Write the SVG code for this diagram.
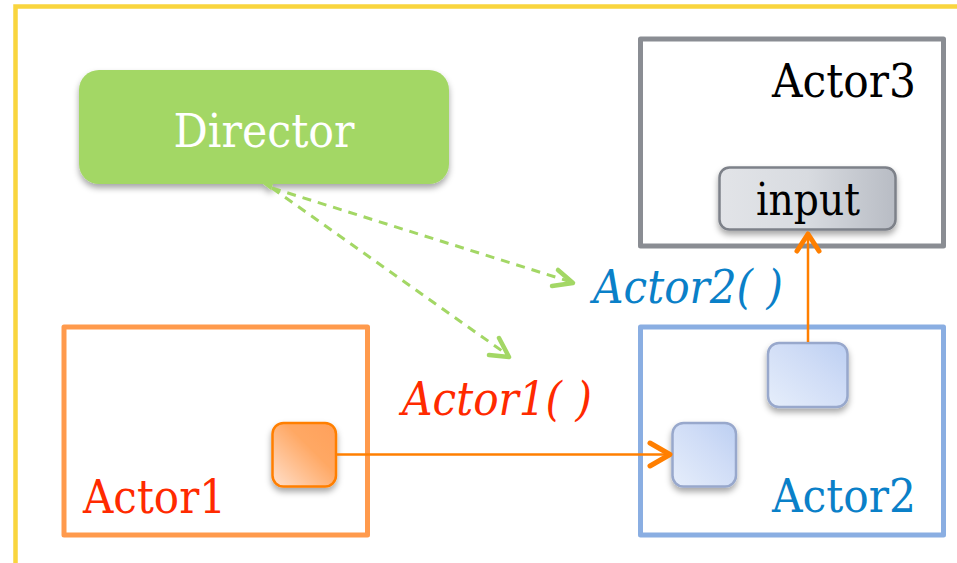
<svg xmlns="http://www.w3.org/2000/svg" width="957" height="563" viewBox="0 0 957 563">
  <defs>
    <style>
      .lbl { font-family: 'DejaVu Serif', 'Liberation Serif', serif; }
      .big { font-size: 46px; }
      .frame { fill: none; stroke-width: 5; stroke-linejoin: round; }
      .port { stroke-width: 2.5; filter: url(#shadow); }
      .flow { fill: none; stroke: #ff7f00; stroke-width: 2.5; }
      .flowhead { fill: none; stroke: #ff7f00; stroke-width: 5; stroke-linecap: round; stroke-linejoin: round; }
      .ctl { fill: none; stroke: #a3d765; stroke-width: 3; stroke-dasharray: 9 7; }
      .ctlhead { fill: none; stroke: #a3d765; stroke-width: 4.5; stroke-linecap: round; stroke-linejoin: round; }
    </style>
    <filter id="shadow" x="-30%" y="-30%" width="160%" height="170%">
      <feDropShadow dx="0" dy="4" stdDeviation="3" flood-color="#000" flood-opacity="0.35"/>
    </filter>
    <linearGradient id="gOrange" x1="0" y1="1" x2="1" y2="0">
      <stop offset="0" stop-color="#ffe0cc"/>
      <stop offset="0.6" stop-color="#ffa864"/>
      <stop offset="1" stop-color="#ffa05a"/>
    </linearGradient>
    <linearGradient id="gBlue" x1="0" y1="1" x2="1" y2="0">
      <stop offset="0" stop-color="#e6eefb"/>
      <stop offset="0.6" stop-color="#cfdcf6"/>
      <stop offset="1" stop-color="#bccff2"/>
    </linearGradient>
    <linearGradient id="gGray" x1="0" y1="0" x2="1" y2="0">
      <stop offset="0" stop-color="#e2e4e8"/>
      <stop offset="0.5" stop-color="#d8dbe0"/>
      <stop offset="1" stop-color="#b8bcc4"/>
    </linearGradient>
  </defs>

  <rect width="957" height="563" fill="#ffffff"/>

  <!-- outer frame -->
  <path d="M15.5,563 V6.5 H957" fill="none" stroke="#f9d53e" stroke-width="4.5"/>

  <!-- Director -->
  <g id="director">
    <g filter="url(#shadow)">
      <rect x="79" y="70" width="370" height="114" rx="20" fill="#a3d765"/>
      <path d="M263,184 L273,184 L271,190 Z" fill="#a3d765"/>
    </g>
    <text class="lbl big" x="264" y="147" text-anchor="middle" fill="#ffffff" textLength="181" lengthAdjust="spacingAndGlyphs">Director</text>
  </g>

  <!-- Actor3 -->
  <g id="actor3">
    <rect class="frame" x="640.5" y="39" width="303" height="207" stroke="#8a8d93"/>
    <text class="lbl big" x="916" y="97" text-anchor="end" fill="#000000" textLength="144" lengthAdjust="spacingAndGlyphs">Actor3</text>
    <g id="actor3-input">
      <rect class="port" x="719.5" y="167.5" width="176" height="62" rx="10" fill="url(#gGray)" stroke="#7d8189"/>
      <text class="lbl" x="808" y="215" text-anchor="middle" font-size="44" fill="#000000" textLength="104" lengthAdjust="spacingAndGlyphs">input</text>
    </g>
  </g>

  <!-- Actor1 -->
  <g id="actor1">
    <rect class="frame" x="64" y="327" width="303.5" height="208" stroke="#ff9a4c"/>
    <text class="lbl big" x="83" y="513" fill="#ff2a00" textLength="143" lengthAdjust="spacingAndGlyphs">Actor1</text>
    <rect id="actor1-out" class="port" x="272.5" y="423" width="63.5" height="63.5" rx="11" fill="url(#gOrange)" stroke="#ff7f00"/>
  </g>

  <!-- Actor2 -->
  <g id="actor2">
    <rect class="frame" x="640.5" y="327" width="303" height="208" stroke="#8aaee2"/>
    <text class="lbl big" x="916" y="512" text-anchor="end" fill="#0a80c8" textLength="144" lengthAdjust="spacingAndGlyphs">Actor2</text>
    <rect id="actor2-in" class="port" x="672.5" y="423" width="63.5" height="63.5" rx="11" fill="url(#gBlue)" stroke="#98a8cc"/>
    <rect id="actor2-out" class="port" x="768" y="343" width="79.5" height="64" rx="11" fill="url(#gBlue)" stroke="#98a8cc"/>
  </g>

  <!-- connectors -->
  <g id="connectors">
    <!-- data flow -->
    <path class="flow" d="M337,454.5 H669"/>
    <path class="flowhead" d="M650,443 L670,454.5 L650,466"/>
    <path class="flow" d="M808,342 V235"/>
    <path class="flowhead" d="M797,251 L808,234 L819,251"/>
    <!-- director control -->
    <path class="ctl" d="M272,188 L568,281"/>
    <path class="ctlhead" d="M558,270 L573,283 L552,286"/>
    <path class="ctl" d="M272,188 L505,353"/>
    <path class="ctlhead" d="M499,338 L509,357 L489,355"/>
  </g>

  <!-- method labels -->
  <text class="lbl big" x="402" y="415" font-style="italic" fill="#ff2a00" textLength="190" lengthAdjust="spacingAndGlyphs">Actor1( )</text>
  <text class="lbl big" x="593" y="303" font-style="italic" fill="#0a80c8" textLength="190" lengthAdjust="spacingAndGlyphs">Actor2( )</text>
</svg>
